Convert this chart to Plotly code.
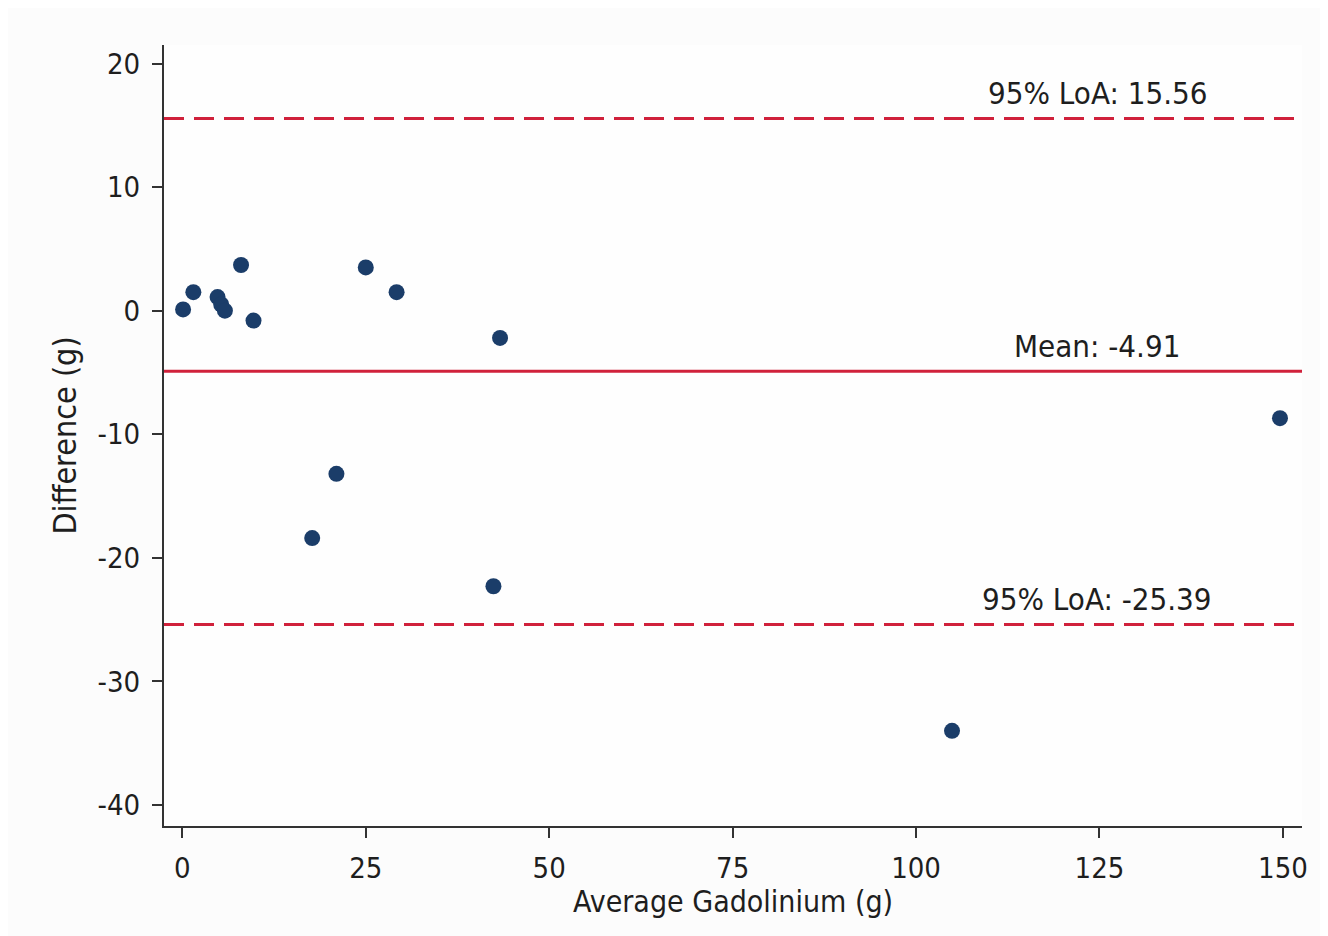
import plotly.graph_objects as go

avg_gd = [0.1, 1.5, 4.8, 5.3, 5.8, 8.0, 9.7, 25.0, 29.2, 43.3, 21.0, 17.7, 42.4, 104.9, 149.6]
diff_g = [0.1, 1.5, 1.1, 0.5, 0.0, 3.7, -0.8, 3.5, 1.5, -2.2, -13.2, -18.4, -22.3, -34.0, -8.7]
mean_diff = -4.91
loa_upper = 15.56
loa_lower = -25.39
x_ticks = [0, 25, 50, 75, 100, 125, 150]
y_ticks = [-40, -30, -20, -10, 0, 10, 20]
y_tick_text = ["-40", "-30", "-20", "-10", "0", "10", "20"]

FONT = "DejaVu Sans Condensed, DejaVu Sans, sans-serif"
RED = "#d0213b"
TXT = "#1e1e1e"

fig = go.Figure()
fig.add_trace(go.Scatter(
    x=avg_gd, y=diff_g, mode="markers",
    marker=dict(color="#1b3d69", size=16, line=dict(width=0)),
    showlegend=False,
))

for val, dash in [(loa_upper, True), (mean_diff, False), (loa_lower, True)]:
    fig.add_shape(type="line", xref="paper", x0=0, x1=1, yref="y", y0=val, y1=val,
                  line=dict(color=RED, width=3, dash="20px,10px" if dash else "solid"))

for val, label in [(loa_upper, f"95% LoA: {loa_upper:.2f}"),
                   (mean_diff, f"Mean: {mean_diff:.2f}"),
                   (loa_lower, f"95% LoA: {loa_lower:.2f}")]:
    fig.add_annotation(x=124.7, y=val, xref="x", yref="y", text=label, showarrow=False,
                       yshift=25, font=dict(family=FONT, size=31, color=TXT))

# x-axis title placed as an annotation to match the reference's tight spacing
fig.add_annotation(x=0.5, y=0, xref="paper", yref="paper", text="Average Gadolinium (g)",
                   showarrow=False, yanchor="middle", yshift=-75,
                   font=dict(family=FONT, size=30, color=TXT))

axis_common = dict(
    showline=True, linecolor="#333333", linewidth=2, mirror=False,
    ticks="outside", ticklen=10, tickwidth=2, tickcolor="#333333",
    showgrid=False, zeroline=False,
    tickfont=dict(family=FONT, size=29, color=TXT),
)

fig.update_xaxes(range=[-2.5, 152.6], tickvals=x_ticks,
                 ticklabelstandoff=5, **axis_common)
fig.update_yaxes(range=[-41.7, 21.5], tickvals=y_ticks, ticktext=y_tick_text,
                 title=dict(text="Difference (g)", font=dict(family=FONT, size=32, color=TXT),
                            standoff=11),
                 ticklabelstandoff=6, **axis_common)

fig.update_layout(
    width=1328, height=936,
    margin=dict(l=156, r=34, t=37, b=118),
    plot_bgcolor="#fefefe", paper_bgcolor="#fcfcfc",
    font=dict(family=FONT),
)

fig.write_html("out.html")
